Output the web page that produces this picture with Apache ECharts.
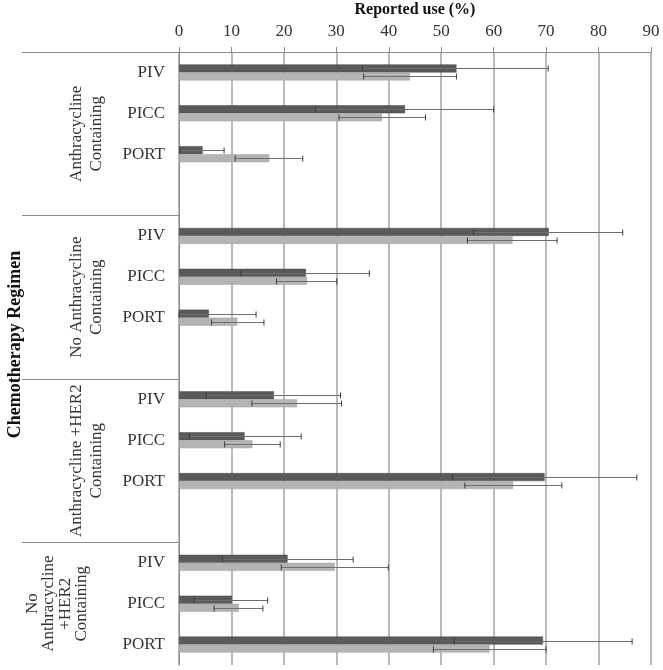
<!DOCTYPE html>
<html>
<head>
<meta charset="utf-8">
<script src="https://cdn.jsdelivr.net/npm/echarts@6/dist/echarts.min.js"></script>
<style>html,body{margin:0;padding:0;background:#fff;}#c{width:663px;height:670px;}</style>
</head>
<body>
<div id="c"></div>
<script>
const categories = ['PIV','PICC','PORT','', 'PIV','PICC','PORT','', 'PIV','PICC','PORT','', 'PIV','PICC','PORT'];
const darkValues = [52.9, 43.1, 4.5, null, 70.5, 24.2, 5.7, null, 18.1, 12.5, 69.7, null, 20.7, 10.1, 69.4];
const darkLow    = [35.0, 26.0, 0.2, null, 56.2, 11.8, 0.0, null, 5.2, 2.0, 52.2, null, 8.3, 2.9, 52.5];
const darkHigh   = [70.4, 60.0, 8.6, null, 84.6, 36.3, 14.7, null, 30.8, 23.3, 87.3, null, 33.2, 16.9, 86.4];
const lightValues = [44.0, 38.7, 17.2, null, 63.6, 24.4, 11.1, null, 22.5, 14.0, 63.7, null, 29.7, 11.4, 59.2];
const lightLow    = [35.2, 30.5, 10.7, null, 55.0, 18.6, 6.2, null, 13.9, 8.7, 54.5, null, 19.5, 6.7, 48.5];
const lightHigh   = [52.9, 47.0, 23.6, null, 72.1, 30.1, 16.2, null, 31.0, 19.3, 73.0, null, 39.9, 16.0, 70.0];
const xTicks = [0,10,20,30,40,50,60,70,80,90];
const groupLabels = ['Anthracycline\nContaining', 'No Anthracycline\nContaining', 'Anthracycline +HER2\nContaining', 'No\nAnthracycline\n+HER2\nContaining'];
const groupStarts = [0, 4, 8, 12];
const groupEnds = [4, 8, 12, 15];
const axisTitle = 'Reported use (%)';
const groupTitle = 'Chemotherapy Regimen';

const FONT = 'Liberation Serif';
const BAR_W = 8;

function errData(lo, hi) {
  const out = [];
  for (let i = 0; i < lo.length; i++) {
    if (lo[i] != null) out.push([lo[i], hi[i], i]);
  }
  return out;
}
function makeErr(offset) {
  return function (params, api) {
    const lo = api.coord([api.value(0), api.value(2)]);
    const hi = api.coord([api.value(1), api.value(2)]);
    const y = Math.round(lo[1] + offset) + 0.5;
    const h = 3;
    const line = { stroke: '#6e6e6e', lineWidth: 1 };
    const cap = { stroke: '#3c3c3c', lineWidth: 1 };
    return {
      type: 'group',
      children: [
        { type: 'line', shape: { x1: lo[0], y1: y, x2: hi[0], y2: y }, style: line },
        { type: 'line', shape: { x1: lo[0], y1: y - h, x2: lo[0], y2: y + h }, style: cap },
        { type: 'line', shape: { x1: hi[0], y1: y - h, x2: hi[0], y2: y + h }, style: cap }
      ]
    };
  };
}

const chart = echarts.init(document.getElementById('c'));
chart.setOption({
  animation: false,
  backgroundColor: '#fff',
  grid: { left: 179, right: 12, top: 52, bottom: 5, containLabel: false, outerBoundsMode: 'none' },
  xAxis: {
    type: 'value', position: 'top', min: 0, max: 90, interval: 10,
    name: axisTitle, nameLocation: 'middle', nameGap: 31,
    nameTextStyle: { fontFamily: FONT, fontWeight: 'bold', fontSize: 16, color: '#111' },
    axisLine: { show: true, lineStyle: { color: '#8c8c8c', width: 1 } },
    axisTick: { show: true, length: 5, lineStyle: { color: '#8c8c8c' } },
    axisLabel: { fontFamily: FONT, fontSize: 17, color: '#333', margin: 12,
      formatter: v => xTicks.indexOf(v) >= 0 ? String(v) : '' },
    splitLine: { show: true, lineStyle: { color: '#a3a3a3', width: 1.5 } }
  },
  yAxis: {
    type: 'category', inverse: true, data: categories,
    axisLine: { show: true, lineStyle: { color: '#8c8c8c', width: 1 } },
    axisTick: { show: false },
    axisLabel: { fontFamily: FONT, fontSize: 17, color: '#333', margin: 14 }
  },
  series: [
    { name: 'dark', type: 'bar', data: darkValues, barWidth: BAR_W, barGap: '0%',
      itemStyle: { color: '#5a5a5a', borderColor: '#474747', borderWidth: 0.5 } },
    { name: 'light', type: 'bar', data: lightValues, barWidth: BAR_W, barGap: '0%',
      itemStyle: { color: '#b4b4b4', borderColor: '#a0a0a0', borderWidth: 0.5 } },
    { name: 'darkErr', type: 'custom', renderItem: makeErr(-BAR_W / 2), data: errData(darkLow, darkHigh),
      encode: { x: [0, 1], y: 2 }, z: 5 },
    { name: 'lightErr', type: 'custom', renderItem: makeErr(BAR_W / 2), data: errData(lightLow, lightHigh),
      encode: { x: [0, 1], y: 2 }, z: 5 }
  ]
});

// group separators and labels, positioned from the category axis
const c0 = chart.convertToPixel({ yAxisIndex: 0 }, 0);
const c1 = chart.convertToPixel({ yAxisIndex: 0 }, 1);
const band = c1 - c0;
const axisX = chart.convertToPixel({ xAxisIndex: 0 }, 0);
const graphics = [];
for (let g = 0; g < groupLabels.length; g++) {
  const topY = chart.convertToPixel({ yAxisIndex: 0 }, groupStarts[g]) - band / 2;
  const botY = chart.convertToPixel({ yAxisIndex: 0 }, groupEnds[g] - 1) + band / 2;
  graphics.push({ type: 'line', shape: { x1: 22, y1: Math.round(topY) + 0.5, x2: axisX, y2: Math.round(topY) + 0.5 },
    style: { stroke: '#8c8c8c', lineWidth: 1 } });
  const multi = groupLabels[g].split('\n').length > 2;
  graphics.push({ type: 'text', x: multi ? 57 : 87, y: (topY + botY) / 2, rotation: Math.PI / 2,
    style: { text: groupLabels[g], font: '17px "' + FONT + '"', fill: '#333',
      align: 'center', verticalAlign: 'middle', lineHeight: multi ? 16.5 : 20 } });
}
const midY = (chart.convertToPixel({ yAxisIndex: 0 }, 0) + chart.convertToPixel({ yAxisIndex: 0 }, categories.length - 1)) / 2;
graphics.push({ type: 'text', x: 15, y: midY - 14, rotation: Math.PI / 2,
  style: { text: groupTitle, font: 'bold 18px "' + FONT + '"', fill: '#111', align: 'center', verticalAlign: 'middle' } });
chart.setOption({ graphic: graphics });
</script>
</body>
</html>
